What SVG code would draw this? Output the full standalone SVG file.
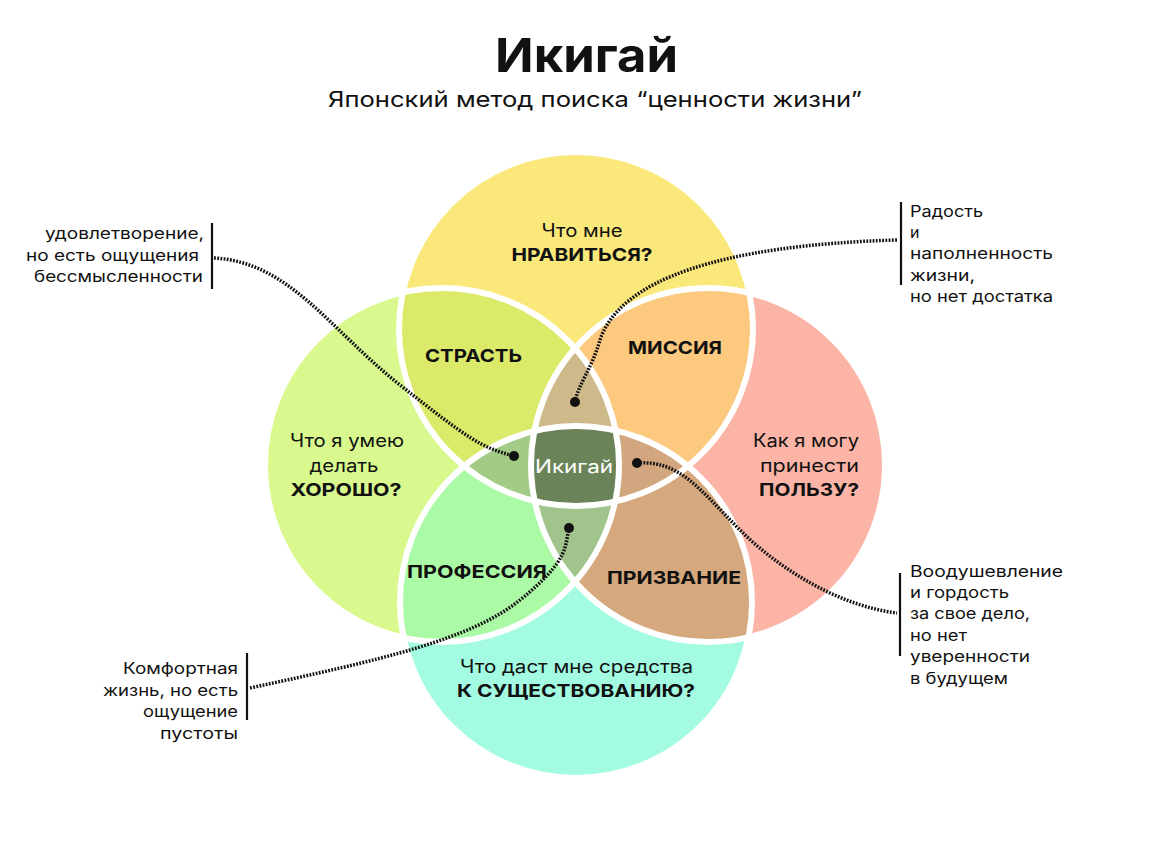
<svg xmlns="http://www.w3.org/2000/svg" width="1151" height="842" viewBox="0 0 1151 842">
<style>
.t{font-family:Inter,"Noto Sans","DejaVu Sans",sans-serif;fill:#111;}
.r{font-weight:400;font-size:18px;}
.b{font-weight:700;font-size:18px;}
.a{font-weight:400;font-size:16px;}
.w{fill:#fff;}
.dot{fill:none;stroke:#111;stroke-width:3.5;stroke-dasharray:1.8 1.4;}
.bar{stroke:#111;stroke-width:2.2;}
.ring{fill:none;stroke:#fff;stroke-width:6;}
</style>
<defs>
<clipPath id="cT"><circle cx="576" cy="329" r="177"/></clipPath>
<clipPath id="cL"><circle cx="442" cy="465" r="177"/></clipPath>
<clipPath id="cR"><circle cx="708" cy="465" r="177"/></clipPath>
<clipPath id="cB"><circle cx="576" cy="602" r="176"/></clipPath>
</defs>
<rect width="1151" height="842" fill="#fff"/>
<g id="title">
<text class="t" x="586.5" y="72" text-anchor="middle" font-size="47" font-weight="700" textLength="183" lengthAdjust="spacingAndGlyphs">Икигай</text>
<text class="t" x="595" y="107" text-anchor="middle" font-size="22" textLength="534" lengthAdjust="spacingAndGlyphs">Японский метод поиска “ценности жизни”</text>
</g>
<g id="top">
<circle cx="576" cy="329" r="177" fill="#fbe87a"/>
<text class="t r" x="582" y="237" text-anchor="middle" textLength="81" lengthAdjust="spacingAndGlyphs">Что мне</text>
<text class="t b" x="582" y="261" text-anchor="middle" textLength="141" lengthAdjust="spacingAndGlyphs">НРАВИТЬСЯ?</text>
</g>
<g id="left">
<circle cx="442" cy="465" r="177" fill="#d9f98f"/>
<text class="t r" x="347" y="447" text-anchor="middle" textLength="114" lengthAdjust="spacingAndGlyphs">Что я умею</text>
<text class="t r" x="344" y="472" text-anchor="middle" textLength="69" lengthAdjust="spacingAndGlyphs">делать</text>
<text class="t b" x="346" y="496" text-anchor="middle" textLength="111" lengthAdjust="spacingAndGlyphs">ХОРОШО?</text>
</g>
<g id="right">
<circle cx="708" cy="465" r="177" fill="#fbb4a6"/>
<text class="t r" x="859" y="447" text-anchor="end" textLength="106" lengthAdjust="spacingAndGlyphs">Как я могу</text>
<text class="t r" x="859" y="472" text-anchor="end" textLength="99" lengthAdjust="spacingAndGlyphs">принести</text>
<text class="t b" x="859" y="496" text-anchor="end" textLength="100" lengthAdjust="spacingAndGlyphs">ПОЛЬЗУ?</text>
</g>
<g id="bottom">
<circle cx="576" cy="602" r="176" fill="#a3fce1"/>
<text class="t r" x="576.5" y="673" text-anchor="middle" textLength="233" lengthAdjust="spacingAndGlyphs">Что даст мне средства</text>
<text class="t b" x="576" y="697" text-anchor="middle" textLength="238" lengthAdjust="spacingAndGlyphs">К СУЩЕСТВОВАНИЮ?</text>
</g>
<g id="strast">
<circle cx="442" cy="465" r="177" clip-path="url(#cT)" fill="#dcea6a"/>
<text class="t b" x="473.5" y="362" text-anchor="middle" textLength="97" lengthAdjust="spacingAndGlyphs">СТРАСТЬ</text>
</g>
<g id="missiya">
<circle cx="708" cy="465" r="177" clip-path="url(#cT)" fill="#fdc97e"/>
<text class="t b" x="675" y="354" text-anchor="middle" textLength="94" lengthAdjust="spacingAndGlyphs">МИССИЯ</text>
</g>
<g id="professiya">
<circle cx="442" cy="465" r="177" clip-path="url(#cB)" fill="#abfaa5"/>
<text class="t b" x="477" y="578" text-anchor="middle" textLength="140" lengthAdjust="spacingAndGlyphs">ПРОФЕССИЯ</text>
</g>
<g id="prizvanie">
<circle cx="708" cy="465" r="177" clip-path="url(#cB)" fill="#d5a97d"/>
<text class="t b" x="674" y="584" text-anchor="middle" textLength="134" lengthAdjust="spacingAndGlyphs">ПРИЗВАНИЕ</text>
</g>
<g id="lens-top" clip-path="url(#cT)"><circle cx="442" cy="465" r="177" clip-path="url(#cR)" fill="#cdb98a"/></g>
<g id="lens-bottom" clip-path="url(#cB)"><circle cx="442" cy="465" r="177" clip-path="url(#cR)" fill="#a0c48b"/></g>
<g id="lens-left" clip-path="url(#cT)"><circle cx="442" cy="465" r="177" clip-path="url(#cB)" fill="#a2cb85"/></g>
<g id="lens-right" clip-path="url(#cT)"><circle cx="708" cy="465" r="177" clip-path="url(#cB)" fill="#d2a77f"/></g>
<g id="ikigai">
<g clip-path="url(#cT)"><g clip-path="url(#cB)"><circle cx="442" cy="465" r="177" clip-path="url(#cR)" fill="#6b8358"/></g></g>
<text class="t r w" x="574" y="473" text-anchor="middle" textLength="78" lengthAdjust="spacingAndGlyphs">Икигай</text>
</g>
<g id="outlines">
<circle class="ring" cx="576" cy="329" r="177"/>
<circle class="ring" cx="442" cy="465" r="177"/>
<circle class="ring" cx="708" cy="465" r="177"/>
<circle class="ring" cx="576" cy="602" r="176"/>
</g>
<g id="connectors">
<path class="dot" d="M214,258 C290,262 330,330 400,385 S480,447 514,456"/>
<path class="dot" d="M897,240 C720,245 620,280 600,340 C592,368 578,385 575,402"/>
<path class="dot" d="M637,463 C680,460 700,490 740,530 S840,606 897,613"/>
<path class="dot" d="M250,688 C380,660 470,640 520,600 S565,545 569,528"/>
<circle cx="514" cy="456" r="5" fill="#111"/>
<circle cx="575" cy="402" r="5" fill="#111"/>
<circle cx="637" cy="463" r="5" fill="#111"/>
<circle cx="569" cy="528" r="5" fill="#111"/>
</g>
<g id="note-top-left">
<line class="bar" x1="212" y1="223" x2="212" y2="289"/>
<text class="t a" x="204" y="239" text-anchor="end" textLength="159" lengthAdjust="spacingAndGlyphs">удовлетворение,</text>
<text class="t a" x="199" y="261" text-anchor="end" textLength="173" lengthAdjust="spacingAndGlyphs">но есть ощущения</text>
<text class="t a" x="203" y="282" text-anchor="end" textLength="169" lengthAdjust="spacingAndGlyphs">бессмысленности</text>
</g>
<g id="note-top-right">
<line class="bar" x1="901" y1="202" x2="901" y2="285"/>
<text class="t a" x="910" y="217" textLength="73" lengthAdjust="spacingAndGlyphs">Радость</text>
<text class="t a" x="910" y="238">и</text>
<text class="t a" x="910" y="259" textLength="143" lengthAdjust="spacingAndGlyphs">наполненность</text>
<text class="t a" x="910" y="281" textLength="65" lengthAdjust="spacingAndGlyphs">жизни,</text>
<text class="t a" x="910" y="302" textLength="143" lengthAdjust="spacingAndGlyphs">но нет достатка</text>
</g>
<g id="note-bottom-right">
<line class="bar" x1="900" y1="573" x2="900" y2="656"/>
<text class="t a" x="910" y="577" textLength="153" lengthAdjust="spacingAndGlyphs">Воодушевление</text>
<text class="t a" x="910" y="598" textLength="99" lengthAdjust="spacingAndGlyphs">и гордость</text>
<text class="t a" x="910" y="619" textLength="120" lengthAdjust="spacingAndGlyphs">за свое дело,</text>
<text class="t a" x="910" y="641" textLength="57" lengthAdjust="spacingAndGlyphs">но нет</text>
<text class="t a" x="910" y="662" textLength="120" lengthAdjust="spacingAndGlyphs">уверенности</text>
<text class="t a" x="910" y="684" textLength="98" lengthAdjust="spacingAndGlyphs">в будущем</text>
</g>
<g id="note-bottom-left">
<line class="bar" x1="247" y1="653" x2="247" y2="720"/>
<text class="t a" x="238" y="674" text-anchor="end" textLength="115" lengthAdjust="spacingAndGlyphs">Комфортная</text>
<text class="t a" x="238" y="696" text-anchor="end" textLength="135" lengthAdjust="spacingAndGlyphs">жизнь, но есть</text>
<text class="t a" x="238" y="717" text-anchor="end" textLength="95" lengthAdjust="spacingAndGlyphs">ощущение</text>
<text class="t a" x="238" y="739" text-anchor="end" textLength="78" lengthAdjust="spacingAndGlyphs">пустоты</text>
</g>
</svg>
